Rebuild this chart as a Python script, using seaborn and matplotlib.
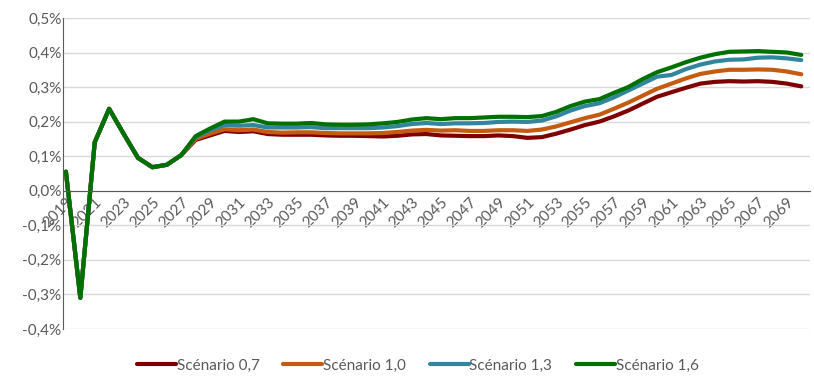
import matplotlib
matplotlib.use("Agg")
import matplotlib.pyplot as plt
import matplotlib.ticker as mticker
import pandas as pd
import seaborn as sns

# %% Data
years = list(range(2019, 2071))
common = [0.055, -0.31, 0.14, 0.237, 0.165, 0.095, 0.068, 0.075, 0.103]

sc_07 = common + [
    0.147, 0.160, 0.173, 0.170, 0.172, 0.164, 0.162, 0.162, 0.162, 0.160,
    0.159, 0.159, 0.158, 0.157, 0.159, 0.163, 0.164, 0.160, 0.159, 0.158,
    0.158, 0.160, 0.158, 0.153, 0.155, 0.165, 0.177, 0.190, 0.200, 0.215,
    0.232, 0.252, 0.272, 0.285, 0.298, 0.310, 0.315, 0.317, 0.316, 0.317,
    0.315, 0.310, 0.302,
]
sc_10 = common + [
    0.150, 0.165, 0.178, 0.175, 0.177, 0.170, 0.168, 0.169, 0.169, 0.167,
    0.166, 0.166, 0.166, 0.167, 0.170, 0.174, 0.176, 0.174, 0.175, 0.173,
    0.173, 0.175, 0.175, 0.173, 0.177, 0.186, 0.198, 0.210, 0.220, 0.237,
    0.255, 0.275, 0.295, 0.310, 0.325, 0.338, 0.345, 0.350, 0.350, 0.351,
    0.350, 0.345, 0.337,
]
sc_13 = common + [
    0.155, 0.175, 0.190, 0.188, 0.190, 0.183, 0.183, 0.183, 0.184, 0.181,
    0.181, 0.181, 0.181, 0.183, 0.187, 0.193, 0.196, 0.193, 0.195, 0.195,
    0.196, 0.199, 0.200, 0.199, 0.203, 0.215, 0.232, 0.245, 0.253, 0.270,
    0.290, 0.310, 0.330, 0.335, 0.352, 0.365, 0.374, 0.379, 0.380, 0.385,
    0.386, 0.383, 0.378,
]
sc_16 = common + [
    0.158, 0.180, 0.200, 0.200, 0.207, 0.195, 0.194, 0.194, 0.196, 0.192,
    0.191, 0.191, 0.192, 0.195, 0.199, 0.206, 0.210, 0.207, 0.210, 0.210,
    0.212, 0.214, 0.214, 0.213, 0.216, 0.228, 0.245, 0.258, 0.265, 0.283,
    0.300, 0.323, 0.343, 0.357, 0.372, 0.385, 0.395, 0.402, 0.403, 0.404,
    0.402, 0.400, 0.393,
]

labels = ["Scénario 0,7", "Scénario 1,0", "Scénario 1,3", "Scénario 1,6"]
series = [sc_07, sc_10, sc_13, sc_16]
colors = ["#7f0000", "#c55a11", "#31859c", "#007000"]

df = pd.concat(
    [pd.DataFrame({"year": years, "value": s, "scenario": lab})
     for s, lab in zip(series, labels)],
    ignore_index=True,
)

# %% Plot
sns.set_style("white")
plt.rcParams["font.family"] = ["Lato", "DejaVu Sans"]

fig = plt.figure(figsize=(8.14, 3.82), dpi=100)
ax = fig.add_axes([0.0774, 0.139, 0.9176, 0.814])

sns.lineplot(
    data=df, x="year", y="value", hue="scenario", hue_order=labels,
    palette=colors, linewidth=3, ax=ax,
)

ax.set_xlim(2018.8, 2070.6)
ax.set_ylim(-0.4, 0.5)
ax.yaxis.set_major_locator(mticker.MultipleLocator(0.1))
ax.yaxis.set_major_formatter(
    mticker.FuncFormatter(lambda v, _: f"{v:.1f}%".replace(".", ","))
)
ax.grid(axis="y", color="#d9d9d9", linewidth=1)
ax.set_axisbelow(True)

ax.spines["bottom"].set_position(("data", 0))
ax.spines["bottom"].set_color("#595959")
ax.spines["left"].set_color("#595959")
ax.spines["top"].set_visible(False)
ax.spines["right"].set_visible(False)
ax.tick_params(axis="both", length=0, labelsize=11, colors="#595959")
ax.tick_params(axis="x", pad=3)
ax.tick_params(axis="y", pad=1)
ax.set_xlabel("")
ax.set_ylabel("")

ax.set_xticks(years[::2])
ax.set_xticklabels([str(y) for y in years[::2]])
for lab in ax.get_xticklabels():
    lab.set_rotation(45)
    lab.set_ha("right")
    lab.set_rotation_mode("anchor")

handles, labs = ax.get_legend_handles_labels()
ax.legend(
    handles, labs, loc="lower center", bbox_to_anchor=(0.475, -0.185),
    ncol=4, frameon=False, fontsize=11, handlelength=2.55,
    handletextpad=0.05, columnspacing=1.55, labelcolor="#595959",
)

fig.savefig("out.png", dpi=100)
